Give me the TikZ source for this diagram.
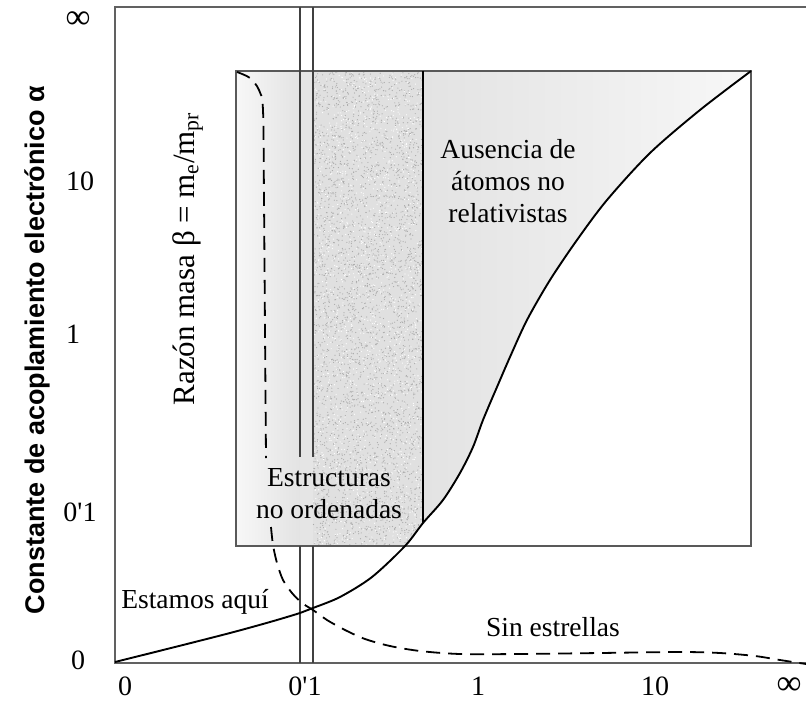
\documentclass[tikz,border=0pt]{standalone}
\usepackage{fontspec}
\setmainfont{Liberation Serif}
\newfontfamily\titlefont{Liberation Sans}
\newcommand{\bigINF}{\scalebox{1.25}{∞}}
\begin{document}
\begin{tikzpicture}[x=1pt,y=-1pt,
  lbl/.style={font=\fontsize{27.5}{32}\selectfont, inner sep=0pt, align=center},
  tick/.style={font=\fontsize{28}{30}\selectfont, inner sep=0pt},
  frameline/.style={draw=black!62, line width=1.8pt},
  boxline/.style={draw=black!65, line width=1.3pt},
  thinline/.style={draw=black!75, line width=1.2pt},
  solidcurve/.style={draw=black, line width=1.9pt},
  dashcurve/.style={draw=black, line width=1.8pt, dash pattern=on 14pt off 8pt}]
\useasboundingbox (0,0) rectangle (806,701);
\fill[white] (0,0) rectangle (806,701);

% shaded regions
\begin{scope}
\clip (236,71) rectangle (751,546);
\clip plot[smooth,tension=0.5] coordinates {(115,662) (175,647) (230,633) (270,622) (300,613) (313,608) (340,597) (372,577) (405,546) (423,523) (443,500) (460,473) (473,447) (483,420) (497,387) (510,357) (527,320) (550,280) (577,240) (607,200) (650,153) (700,110) (751,71)} -- (751,0) -- (0,0) -- (0,662) -- cycle;
\shade[left color=black!3, right color=black!11] (236,71) rectangle (300,546);
\fill[black!10] (300,71) rectangle (313,546);
\fill[black!12] (313,71) rectangle (423,546);
\pgfmathsetseed{12}
\foreach \i in {1,...,3500}{\fill[black!33] ({313+110*rnd},{71+475*rnd}) circle (0.6pt);}
\foreach \i in {1,...,1500}{\fill[white] ({313+110*rnd},{71+475*rnd}) circle (0.6pt);}
\shade[left color=black!11, right color=black!3] (423,71) rectangle (751,546);
\end{scope}

% outer frame
\draw[frameline] (806,7) -- (115,7) -- (115,663) -- (806,663);
% inner box
\draw[boxline] (236,71) rectangle (751,546);
% vertical boundary
\draw[black, line width=1.6pt] (423,71) -- (423,523);
% double vertical lines
\draw[thinline] (300,7) -- (300,457);
\draw[thinline] (313,7) -- (313,457);
\draw[thinline] (300,546) -- (300,663);
\draw[thinline] (313,546) -- (313,663);

% solid curve
\draw[solidcurve] plot[smooth,tension=0.5] coordinates {(115,662) (175,647) (230,633) (270,622) (300,613) (313,608) (340,597) (372,577) (405,546) (423,523) (443,500) (460,473) (473,447) (483,420) (497,387) (510,357) (527,320) (550,280) (577,240) (607,200) (650,153) (700,110) (751,71)};

% dashed curve
\draw[dashcurve] plot[smooth,tension=0.5] coordinates {(237,72) (250,78) (259,90) (263,110) (264,200) (265,330) (266,458)};
\draw[dashcurve] plot[smooth,tension=0.5] coordinates {(271,527) (273,545) (277,563) (283,580) (292,593) (302,603) (313,610) (327,620) (345,630) (365,639) (390,646) (420,651) (460,654) (520,654) (600,653) (680,652) (720,653) (755,656) (780,660) (806,664)};

% axis tick labels
\node[tick] (yinf) at (78,20) {\bigINF};
\node[tick] (y10) at (80,181) {10};
\node[tick] (y1) at (73,334) {1};
\node[tick] (y01) at (80,512) {0\textquotesingle1};
\node[tick] (y0) at (78,660) {0};
\node[tick] (x0) at (125,686) {0};
\node[tick] (x01) at (305,686) {0\textquotesingle1};
\node[tick] (x1) at (478,686) {1};
\node[tick] (x10) at (655,686) {10};
\node[tick] (xinf) at (789,686) {\bigINF};

% axis titles
\node[font=\titlefont\bfseries\fontsize{27}{30}\selectfont, rotate=90, inner sep=0pt] (ytitle) at (37,350) {Constante de acoplamiento electrónico α};
\node[font=\fontsize{31}{32}\selectfont, rotate=90, inner sep=0pt] (xtitle) at (188,259) {Razón masa β = m$_{\mathrm{e}}$/m$_{\mathrm{pr}}$};

% region labels
\node[lbl] (ausencia) at (508,181) {Ausencia de\\átomos no\\relativistas};
\node[lbl] (estruct) at (329,494) {Estructuras\\no ordenadas};
\node[lbl] (aqui) at (195,602) {Estamos aquí};
\node[lbl] (sinest) at (553,627) {Sin estrellas};
\end{tikzpicture}
\end{document}
